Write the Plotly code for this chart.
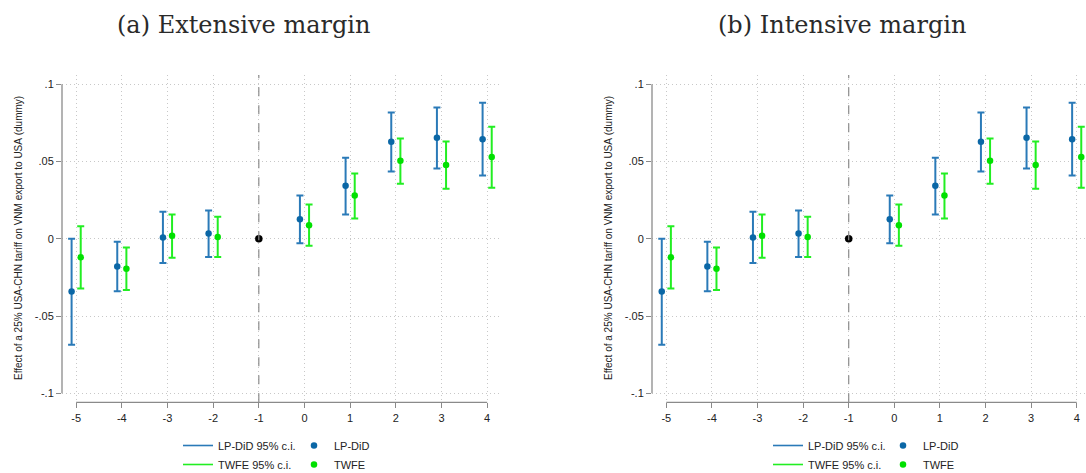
import plotly.graph_objects as go

# Event-study estimates (relative period -1 is the omitted reference year)
periods = [-5, -4, -3, -2, 0, 1, 2, 3, 4]
ref_period = -1
ref_value = 0.0

lp_est = [-0.0341, -0.0179, 0.0009, 0.0034, 0.0127, 0.0343, 0.0628, 0.0654, 0.0645]
lp_lo = [-0.0686, -0.0339, -0.0157, -0.0117, -0.0028, 0.0157, 0.0436, 0.0455, 0.0410]
lp_hi = [0.0000, -0.0019, 0.0175, 0.0183, 0.0280, 0.0524, 0.0818, 0.0850, 0.0880]

twfe_est = [-0.0119, -0.0194, 0.0019, 0.0011, 0.0088, 0.0280, 0.0505, 0.0477, 0.0529]
twfe_lo = [-0.0322, -0.0332, -0.0123, -0.0117, -0.0045, 0.0131, 0.0356, 0.0324, 0.0330]
twfe_hi = [0.0082, -0.0056, 0.0157, 0.0142, 0.0222, 0.0423, 0.0649, 0.0630, 0.0725]

x_ticks = [-5, -4, -3, -2, -1, 0, 1, 2, 3, 4]
y_ticks = [-0.1, -0.05, 0, 0.05, 0.1]
y_tick_labels = ["-.1", "-.05", "0", ".05", ".1"]

panel_titles = ["(a) Extensive margin", "(b) Intensive margin"]
y_title = "Effect of a 25% USA-CHN tariff on VNM export to USA (dummy)"

BLUE_CI = "#2a7ab8"
BLUE_PT = "#0b67a6"
GREEN_CI = "#22ee22"
GREEN_PT = "#00e000"
AXIS_GRAY = "#8a8a8a"
GRID = "#c8c8c8"
FONT = "Liberation Sans, Arial, sans-serif"

W, H = 1086, 473
# panel geometry in pixels: y-axis line x, right edge
panels = [
    dict(left=62, right=502, xr=[-5.31, 4.325]),
    dict(left=652, right=1086, xr=[-5.314, 4.204]),
]
top_px, bottom_px = 75, 402.3
y_range = [-0.1058, 0.1060]
shift = 0.1


def gapped(xs, ys):
    gx, gy = [], []
    for a, b in zip(xs, ys):
        gx += [a, None]
        gy += [b, None]
    return gx, gy


fig = go.Figure()
shapes = []
annotations = []

for i, pnl in enumerate(panels):
    ax = "" if i == 0 else str(i + 1)
    xa, ya = "x" + ax, "y" + ax
    lg_ci = "legend" if i == 0 else "legend3"
    lg_pt = "legend2" if i == 0 else "legend4"

    for name, est, lo, hi, off, c_ci, c_pt, ptname in [
        ("LP-DiD 95% c.i.", lp_est, lp_lo, lp_hi, -shift, BLUE_CI, BLUE_PT, "LP-DiD"),
        ("TWFE 95% c.i.", twfe_est, twfe_lo, twfe_hi, shift, GREEN_CI, GREEN_PT, "TWFE"),
    ]:
        xs = [p + off for p in periods]
        gx, gy = gapped(xs, est)
        up, dn = [], []
        for e, l, h in zip(est, lo, hi):
            up += [h - e, 0]
            dn += [e - l, 0]
        fig.add_trace(go.Scatter(
            x=gx, y=gy, mode="lines", name=name, xaxis=xa, yaxis=ya,
            line=dict(color=c_ci, width=1.6), connectgaps=False,
            error_y=dict(type="data", array=up, arrayminus=dn, symmetric=False,
                         color=c_ci, thickness=2, width=3.5),
            legend=lg_ci, hoverinfo="skip",
        ))
        fig.add_trace(go.Scatter(
            x=xs, y=est, mode="markers", name=ptname, xaxis=xa, yaxis=ya,
            marker=dict(color=c_pt, size=6.5), legend=lg_pt,
        ))

    fig.add_trace(go.Scatter(
        x=[ref_period], y=[ref_value], mode="markers", xaxis=xa, yaxis=ya,
        marker=dict(color="black", size=7.5), showlegend=False,
    ))

    dom_x = [pnl["left"] / W, pnl["right"] / W]
    dom_y = [1 - bottom_px / H, 1 - top_px / H]
    fig.update_layout(**{
        "xaxis" + ax: dict(
            domain=dom_x, range=pnl["xr"], tickvals=x_ticks,
            ticktext=[str(t) for t in x_ticks], showgrid=True,
            gridcolor=GRID, griddash="1px,3px", gridwidth=1,
            zeroline=False, showline=False, ticks="outside", ticklen=5,
            tickcolor=AXIS_GRAY, tickwidth=1.3,
            tickfont=dict(family=FONT, size=11, color="#222"),
            anchor=ya, fixedrange=True, automargin=False,
        ),
        "yaxis" + ax: dict(
            domain=dom_y, range=y_range, tickvals=y_ticks, ticktext=y_tick_labels,
            showgrid=True, gridcolor=GRID, griddash="1px,3px", gridwidth=1,
            zeroline=False, showline=False, ticks="outside", ticklen=5,
            tickcolor=AXIS_GRAY, tickwidth=1.3,
            tickfont=dict(family=FONT, size=11, color="#222"),
            anchor=xa, fixedrange=True, automargin=False,
        ),
    })

    # Stata-style axis lines that span only the labelled range
    shapes.append(dict(type="line", xref=xa + " domain", yref=ya, x0=0, x1=0,
                       y0=y_ticks[0], y1=y_ticks[-1],
                       line=dict(color=AXIS_GRAY, width=1.3)))
    shapes.append(dict(type="line", xref=xa, yref=ya + " domain",
                       x0=x_ticks[0], x1=x_ticks[-1], y0=0, y1=0,
                       line=dict(color=AXIS_GRAY, width=1.3)))
    # reference period marker line
    shapes.append(dict(type="line", xref=xa, yref=ya + " domain",
                       x0=ref_period, x1=ref_period, y0=0, y1=1,
                       line=dict(color="#8c8c8c", width=1.2, dash="dash")))

    annotations.append(dict(
        text=panel_titles[i], xref="paper", yref="paper",
        x=[243.5, 842][i] / W, y=1 - 25 / H, showarrow=False,
        xanchor="center", yanchor="middle",
        font=dict(family="DejaVu Serif, serif", size=24, color="#2a2a2a"),
    ))
    annotations.append(dict(
        text=y_title.replace(" ", "\u00a0"), xref="paper", yref="paper",
        x=(pnl["left"] - 44) / W, y=1 - 238 / H, showarrow=False,
        textangle=-90, xanchor="center", yanchor="middle",
        font=dict(family=FONT, size=10, color="#222"),
    ))

legend_common = dict(
    orientation="v", yanchor="top", xanchor="left", y=1 - 431 / H,
    xref="container", yref="container",
    font=dict(family=FONT, size=11, color="#222"), bgcolor="rgba(0,0,0,0)",
    tracegroupgap=0, itemwidth=30, borderwidth=0,
)

fig.update_layout(
    width=W, height=H, margin=dict(l=0, r=0, t=0, b=0, autoexpand=False),
    paper_bgcolor="white", plot_bgcolor="white",
    shapes=shapes, annotations=annotations,
    legend=dict(legend_common, x=178 / W),
    legend2=dict(legend_common, x=294 / W),
    legend3=dict(legend_common, x=768 / W),
    legend4=dict(legend_common, x=883 / W),
)

fig.write_html("out.html")
